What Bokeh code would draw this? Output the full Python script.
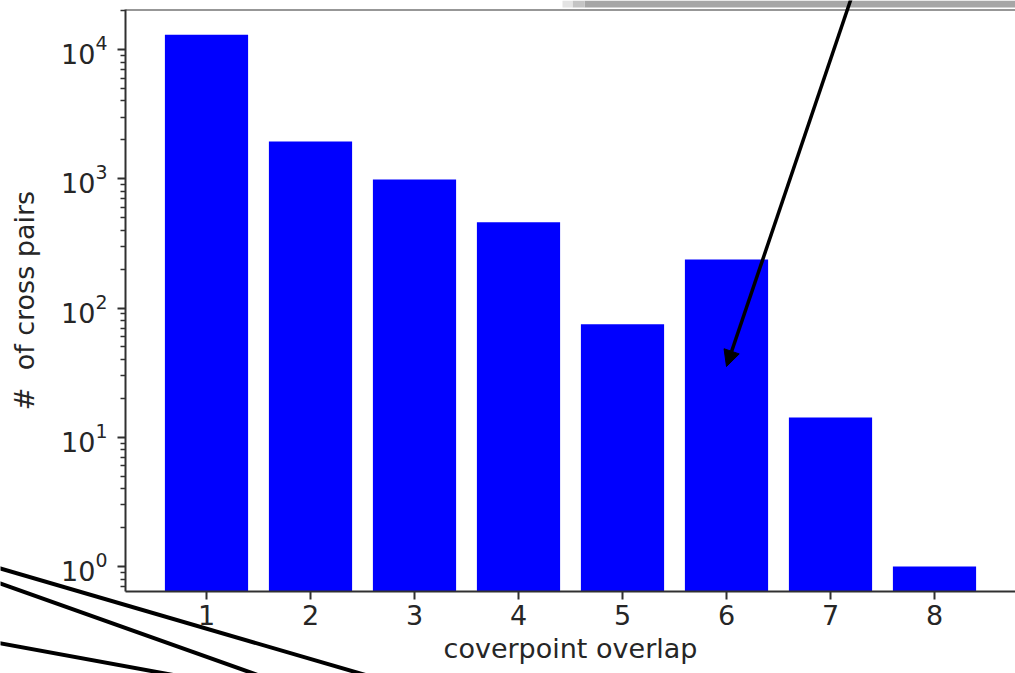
from bokeh.plotting import figure
from bokeh.models import FixedTicker, Range1d, Arrow, NormalHead, Span, LogTickFormatter
from bokeh.embed import file_html
from bokeh.resources import INLINE

# ---- data ----
overlap = [1, 2, 3, 4, 5, 6, 7, 8]
cross_pairs = [13000, 1940, 985, 460, 75, 237, 14.2, 1]
x_tick_labels = ["1", "2", "3", "4", "5", "6", "7", "8"]
y_ticks = [1, 10, 100, 1000, 10000]
x_label = "coverpoint overlap"
y_label = "#\u00a0 of cross pairs"

# ---- layout (window pixels) ----
W, H = 1015, 673
FL, FT, FB = 125, 9, 591
PX_UNIT = 104.0
PX_DEC = 129.25
X1_PX = 206
Y0_PX = 566

x0 = 1 - (X1_PX - FL) / PX_UNIT
x1 = x0 + (W - FL) / PX_UNIT
y0 = 10 ** ((Y0_PX - FB) / PX_DEC)
y1 = 10 ** ((Y0_PX - FT) / PX_DEC)

p = figure(width=W, height=H, x_range=Range1d(x0, x1), y_range=Range1d(y0, y1),
           y_axis_type="log", output_backend="svg", toolbar_location=None,
           min_border_left=FL, min_border_right=0, min_border_top=FT,
           min_border_bottom=H - FB)
p.outline_line_color = None
p.grid.visible = False
p.background_fill_color = "white"
p.border_fill_color = "white"

p.vbar(x=overlap, top=cross_pairs, bottom=0.01, width=0.8,
       fill_color="#0000ff", line_color=None)

FONT = "DejaVu Sans"
TXT = "#262626"
AX = "#303030"

p.xaxis.ticker = FixedTicker(ticks=overlap)
p.xaxis.major_label_overrides = {v: s for v, s in zip(overlap, x_tick_labels)}
minor = [k * 10 ** e for e in range(-1, 5) for k in range(2, 10)]
p.yaxis.ticker = FixedTicker(ticks=y_ticks, minor_ticks=minor)
p.yaxis.formatter = LogTickFormatter()

for ax in (p.xaxis[0], p.yaxis[0]):
    ax.axis_line_color = AX
    ax.axis_line_width = 2
    ax.major_tick_line_color = AX
    ax.major_tick_line_width = 2
    ax.major_tick_in = 0
    ax.major_tick_out = 8
    ax.minor_tick_line_color = AX
    ax.minor_tick_line_width = 1.5
    ax.minor_tick_in = 0
    ax.minor_tick_out = 5
    ax.major_label_text_font = FONT
    ax.major_label_text_font_size = "27px"
    ax.major_label_text_color = TXT
    ax.axis_label_text_font = FONT
    ax.axis_label_text_font_size = "27px"
    ax.axis_label_text_color = TXT
    ax.axis_label_text_font_style = "normal"

p.xaxis.axis_label = x_label
p.xaxis.major_label_standoff = 5
p.xaxis.axis_label_standoff = 5
p.xaxis.minor_tick_line_color = None

p.yaxis.axis_label = y_label
p.yaxis.major_label_standoff = 10
p.yaxis.axis_label_standoff = 18

# top spine
p.add_layout(Span(location=y1, dimension="width", line_color=AX, line_width=2))

# ---- transparent overlay for annotation arrows (pixel coordinates) ----
ov = figure(width=W, height=H, x_range=Range1d(0, W), y_range=Range1d(H, 0),
            x_axis_type=None, y_axis_type=None, output_backend="svg",
            toolbar_location=None, min_border=0)
ov.grid.visible = False
ov.outline_line_color = None
ov.background_fill_color = None
ov.border_fill_color = None
ov.styles = {"position": "absolute", "left": "0px", "top": "0px"}

# shadow of an annotation box above the axes
ov.segment(x0=[584], y0=[3.5], x1=[1030], y1=[3.5], line_color="#a6a6a6", line_width=7)
ov.segment(x0=[572], y0=[3.5], x1=[584], y1=[3.5], line_color="#c4c4c4", line_width=7)
ov.segment(x0=[562], y0=[3.5], x1=[572], y1=[3.5], line_color="#e4e4e4", line_width=7)

# annotation arrow pointing into bar 6
ov.add_layout(Arrow(x_start=852, y_start=-6, x_end=726, y_end=366,
                    end=NormalHead(size=16, fill_color="black", line_color="black"),
                    line_color="black", line_width=3.5))

# arrows from annotations off-screen at lower left
ov.segment(x0=[-10, -10, -10], y0=[565.1, 579.4, 641.0],
           x1=[400, 290, 200], y1=[684.7, 686.2, 679.5],
           line_color="black", line_width=4)

open("out.html", "w").write(file_html([p, ov], INLINE))
